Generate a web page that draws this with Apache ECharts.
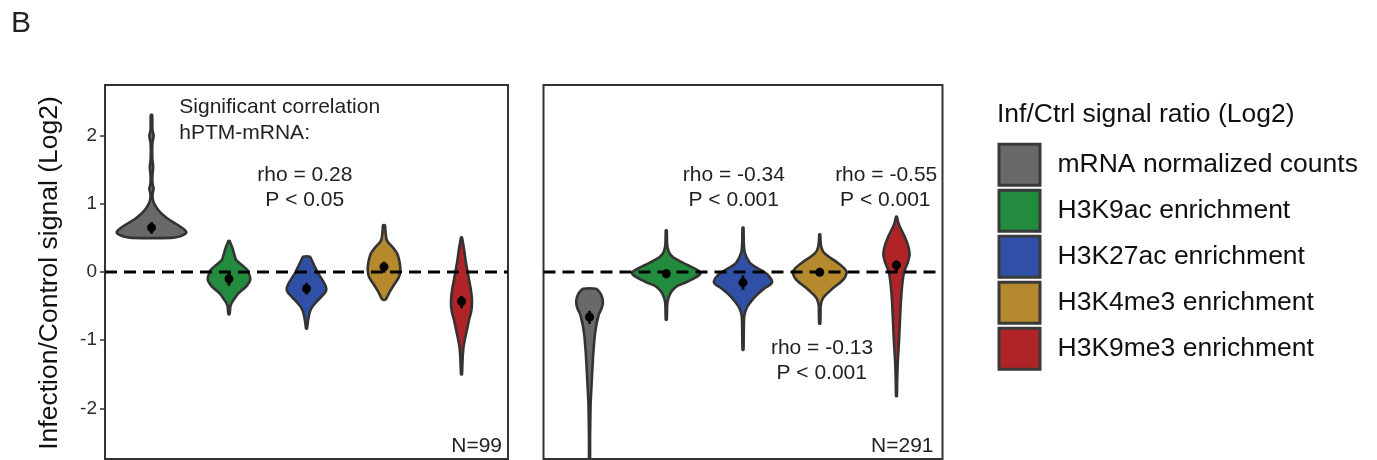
<!DOCTYPE html>
<html>
<head>
<meta charset="utf-8">
<script src="https://cdn.jsdelivr.net/npm/echarts@6/dist/echarts.min.js"></script>
<style>
html,body{margin:0;padding:0;background:#fff;}
#chart{width:1377px;height:460px;}
</style>
</head>
<body>
<div id="chart"></div>
<script>
// ---------- DATA ----------
const categories = ['mRNA normalized counts','H3K9ac enrichment','H3K27ac enrichment','H3K4me3 enrichment','H3K9me3 enrichment'];
const yTicks = [-2, -1, 0, 1, 2];
const zeroLevel = 0;

// violin profiles: [y value, half width in category units], bottom -> top
// Panel 1 (N=99)
const p1_mRNA = [[0.50,0.25],[0.52,0.36],[0.55,0.425],[0.58,0.45],[0.62,0.425],[0.67,0.365],[0.72,0.295],[0.78,0.21],[0.85,0.135],[0.92,0.08],[0.98,0.045],[1.04,0.022],[1.10,0.013],[1.16,0.016],[1.22,0.028],[1.28,0.015],[1.40,0.011],[1.54,0.022],[1.65,0.011],[1.88,0.011],[2.00,0.028],[2.08,0.012],[2.30,0.009]];
const p1_H3K9ac = [[-0.62,0.006],[-0.58,0.012],[-0.50,0.018],[-0.44,0.040],[-0.40,0.065],[-0.32,0.115],[-0.22,0.215],[-0.15,0.26],[-0.10,0.275],[-0.05,0.265],[0.025,0.24],[0.10,0.17],[0.17,0.095],[0.25,0.07],[0.35,0.045],[0.42,0.02],[0.455,0.006]];
const p1_H3K27ac = [[-0.83,0.006],[-0.76,0.014],[-0.66,0.028],[-0.58,0.045],[-0.51,0.075],[-0.44,0.125],[-0.37,0.185],[-0.30,0.24],[-0.26,0.255],[-0.20,0.245],[-0.10,0.195],[-0.02,0.15],[0.05,0.12],[0.12,0.09],[0.18,0.065],[0.225,0.045]];
const p1_H3K4me3 = [[-0.405,0.02],[-0.38,0.035],[-0.32,0.06],[-0.24,0.10],[-0.17,0.14],[-0.08,0.19],[0.025,0.21],[0.12,0.205],[0.20,0.19],[0.27,0.17],[0.33,0.135],[0.39,0.09],[0.44,0.05],[0.49,0.03],[0.58,0.02],[0.685,0.012]];
const p1_H3K9me3 = [[-1.50,0.006],[-1.40,0.010],[-1.25,0.015],[-1.10,0.026],[-0.95,0.05],[-0.82,0.075],[-0.71,0.095],[-0.58,0.125],[-0.46,0.135],[-0.34,0.13],[-0.22,0.115],[-0.10,0.095],[0.025,0.075],[0.15,0.055],[0.32,0.035],[0.42,0.02],[0.505,0.006]];
// Panel 2 (N=291)
const p2_mRNA = [[-3.2,0.005],[-2.42,0.007],[-2.1,0.011],[-1.93,0.014],[-1.7,0.024],[-1.44,0.036],[-1.2,0.048],[-0.95,0.066],[-0.85,0.078],[-0.76,0.092],[-0.68,0.108],[-0.61,0.125],[-0.54,0.155],[-0.465,0.172],[-0.40,0.17],[-0.33,0.15],[-0.28,0.12],[-0.245,0.085]];
const p2_H3K9ac = [[-0.70,0.006],[-0.62,0.009],[-0.50,0.011],[-0.42,0.018],[-0.36,0.035],[-0.30,0.06],[-0.25,0.095],[-0.20,0.15],[-0.15,0.26],[-0.10,0.35],[-0.05,0.425],[-0.02,0.445],[0.01,0.43],[0.05,0.37],[0.09,0.30],[0.12,0.245],[0.17,0.16],[0.22,0.085],[0.28,0.04],[0.35,0.018],[0.43,0.01],[0.55,0.008],[0.61,0.006]];
const p2_H3K27ac = [[-1.14,0.006],[-1.0,0.009],[-0.80,0.011],[-0.66,0.015],[-0.58,0.03],[-0.51,0.055],[-0.44,0.10],[-0.37,0.15],[-0.30,0.215],[-0.24,0.28],[-0.19,0.35],[-0.147,0.38],[-0.11,0.37],[-0.07,0.345],[-0.02,0.30],[0.025,0.24],[0.07,0.165],[0.12,0.10],[0.17,0.07],[0.22,0.045],[0.30,0.02],[0.43,0.01],[0.65,0.006]];
const p2_H3K4me3 = [[-0.757,0.006],[-0.65,0.010],[-0.50,0.012],[-0.43,0.025],[-0.38,0.045],[-0.34,0.075],[-0.28,0.13],[-0.22,0.19],[-0.16,0.26],[-0.10,0.315],[-0.05,0.34],[0.0,0.35],[0.04,0.33],[0.075,0.30],[0.12,0.25],[0.17,0.19],[0.23,0.11],[0.29,0.05],[0.36,0.022],[0.44,0.011],[0.55,0.006]];
const p2_H3K9me3 = [[-1.82,0.005],[-1.6,0.009],[-1.34,0.016],[-1.15,0.026],[-0.95,0.036],[-0.70,0.046],[-0.46,0.056],[-0.30,0.066],[-0.12,0.082],[0.0,0.10],[0.075,0.125],[0.15,0.15],[0.245,0.17],[0.32,0.165],[0.37,0.155],[0.44,0.135],[0.51,0.11],[0.58,0.08],[0.66,0.045],[0.74,0.02],[0.81,0.006]];

// mean and error bar (lo/hi)
const p1Mean = [0.65, -0.10, -0.245, 0.075, -0.43];
const p1Lo   = [0.56, -0.20, -0.33, -0.01, -0.53];
const p1Hi   = [0.73, -0.01, -0.16, 0.15, -0.35];
const p2Mean = [-0.66, -0.025, -0.155, -0.005, 0.10];
const p2Lo   = [-0.76, -0.09, -0.26, -0.06, -0.01];
const p2Hi   = [-0.57, 0.04, -0.05, 0.06, 0.17];

const panel1Labels = ['N=99'];
const panel2Labels = ['N=291'];

// ---------- STYLE ----------
const colors = ['#696969', '#238b3d', '#2f50a6', '#b5892d', '#b02428'];
const FONT = "'Liberation Sans', Arial, Helvetica, sans-serif";
const panel1 = [p1_mRNA, p1_H3K9ac, p1_H3K27ac, p1_H3K4me3, p1_H3K9me3];
const panel2 = [p2_mRNA, p2_H3K9ac, p2_H3K27ac, p2_H3K4me3, p2_H3K9me3];
const xMin = 0.4, xMax = 5.6;

function violinRender(profiles) {
  return function (params, api) {
    const i = params.dataIndex;
    const cx = api.value(0);
    const prof = profiles[i];
    const right = prof.map(p => api.coord([cx + p[1], p[0]]));
    const left = prof.slice().reverse().map(p => api.coord([cx - p[1], p[0]]));
    return {
      type: 'polygon',
      shape: { points: right.concat(left), smooth: 0.2 },
      style: { fill: colors[i], stroke: '#333333', lineWidth: 2.6, lineJoin: 'round' }
    };
  };
}
function meanRender(params, api) {
  const x = api.value(0);
  const m = api.coord([x, api.value(1)]);
  const lo = api.coord([x, api.value(2)]);
  const hi = api.coord([x, api.value(3)]);
  return {
    type: 'group',
    children: [
      { type: 'line', shape: { x1: lo[0], y1: lo[1], x2: hi[0], y2: hi[1] }, style: { stroke: '#000', lineWidth: 2.8 } },
      { type: 'circle', shape: { cx: m[0], cy: m[1], r: 4.5 }, style: { fill: '#000' } }
    ]
  };
}
function meanData(mean, lo, hi) { return mean.map((v, i) => [i + 1, v, lo[i], hi[i]]); }

const yRange = { min: -2.74, max: 2.74 };
const chart = echarts.init(document.getElementById('chart'), null, { renderer: 'canvas' });

const legendItems = [];
categories.forEach((c, i) => {
  legendItems.push({ type: 'rect', shape: { x: 999, y: 144.2 + i * 46, width: 41, height: 41 },
    style: { fill: colors[i], stroke: '#3a3a3a', lineWidth: 3 } });
  legendItems.push({ type: 'text', style: { text: c, x: 1057.5, y: 165 + i * 45.9, textAlign: 'left', textVerticalAlign: 'middle',
    font: '26.5px ' + FONT, fill: '#111' } });
});

function txt(t, x, y, align, size) {
  return { type: 'text', z: 10, style: { text: t, x: x, y: y, textAlign: align, textVerticalAlign: 'middle', font: size + 'px ' + FONT, fill: '#222' } };
}

const option = {
  animation: false,
  backgroundColor: '#fff',
  grid: [
    { left: 105, top: 85, width: 403, height: 374, show: true, borderColor: '#333', borderWidth: 2, backgroundColor: 'transparent' },
    { left: 543.5, top: 85, width: 399, height: 374, show: true, borderColor: '#333', borderWidth: 2, backgroundColor: 'transparent' }
  ],
  xAxis: [
    { gridIndex: 0, type: 'value', min: xMin, max: xMax, show: false },
    { gridIndex: 1, type: 'value', min: xMin, max: xMax, show: false }
  ],
  yAxis: [
    { gridIndex: 0, type: 'value', min: yRange.min, max: yRange.max, splitLine: { show: false },
      axisLine: { show: true, lineStyle: { color: '#333', width: 2 } },
      axisTick: { show: true, length: 5, customValues: yTicks, lineStyle: { color: '#333', width: 1.5 } },
      axisLabel: { show: true, customValues: yTicks, margin: 8, fontSize: 19, color: '#2b2b2b', fontFamily: FONT } },
    { gridIndex: 1, type: 'value', min: yRange.min, max: yRange.max, splitLine: { show: false },
      axisLine: { show: false }, axisTick: { show: false }, axisLabel: { show: false } }
  ],
  graphic: [
    txt('B', 11, 24, 'left', 30),
    { type: 'text', z: 10, rotation: Math.PI / 2, x: 50, y: 273,
      style: { text: 'Infection/Control signal (Log2)', x: 0, y: 0, textAlign: 'center', textVerticalAlign: 'middle', font: '26.5px ' + FONT, fill: '#111' } },
    txt('Significant correlation', 179.3, 107.7, 'left', 21),
    txt('hPTM-mRNA:', 179.3, 133.3, 'left', 21),
    txt('rho = 0.28', 304.8, 175, 'center', 21),
    txt('P < 0.05', 304.7, 200.7, 'center', 21),
    txt('rho = -0.34', 733.8, 175, 'center', 21),
    txt('P < 0.001', 733.7, 200.7, 'center', 21),
    txt('rho = -0.55', 886.2, 175, 'center', 21),
    txt('P < 0.001', 885.3, 200.7, 'center', 21),
    txt('rho = -0.13', 822, 348.3, 'center', 21),
    txt('P < 0.001', 821.7, 373.3, 'center', 21),
    txt(panel1Labels[0], 502, 446.7, 'right', 21),
    txt(panel2Labels[0], 933.5, 446.5, 'right', 21),
    { type: 'text', style: { text: 'Inf/Ctrl signal ratio (Log2)', x: 997, y: 115, textAlign: 'left', textVerticalAlign: 'middle', font: '26.5px ' + FONT, fill: '#111' } }
  ].concat(legendItems),
  series: [
    { type: 'custom', xAxisIndex: 0, yAxisIndex: 0, z: 2, clip: true, renderItem: violinRender(panel1),
      encode: { x: 0 }, data: categories.map((c, i) => [i + 1]) },
    { type: 'custom', xAxisIndex: 1, yAxisIndex: 1, z: 2, clip: true, renderItem: violinRender(panel2),
      encode: { x: 0 }, data: categories.map((c, i) => [i + 1]) },
    { type: 'line', xAxisIndex: 0, yAxisIndex: 0, z: 3, symbol: 'none', silent: true,
      lineStyle: { color: '#000', width: 3, type: [12, 7] }, data: [[xMin, zeroLevel], [xMax, zeroLevel]] },
    { type: 'line', xAxisIndex: 1, yAxisIndex: 1, z: 3, symbol: 'none', silent: true,
      lineStyle: { color: '#000', width: 3, type: [12, 7] }, data: [[xMin, zeroLevel], [xMax, zeroLevel]] },
    { type: 'custom', xAxisIndex: 0, yAxisIndex: 0, z: 4, renderItem: meanRender,
      encode: { x: 0, y: 1 }, data: meanData(p1Mean, p1Lo, p1Hi) },
    { type: 'custom', xAxisIndex: 1, yAxisIndex: 1, z: 4, renderItem: meanRender,
      encode: { x: 0, y: 1 }, data: meanData(p2Mean, p2Lo, p2Hi) }
  ]
};
chart.setOption(option);
</script>
</body>
</html>
